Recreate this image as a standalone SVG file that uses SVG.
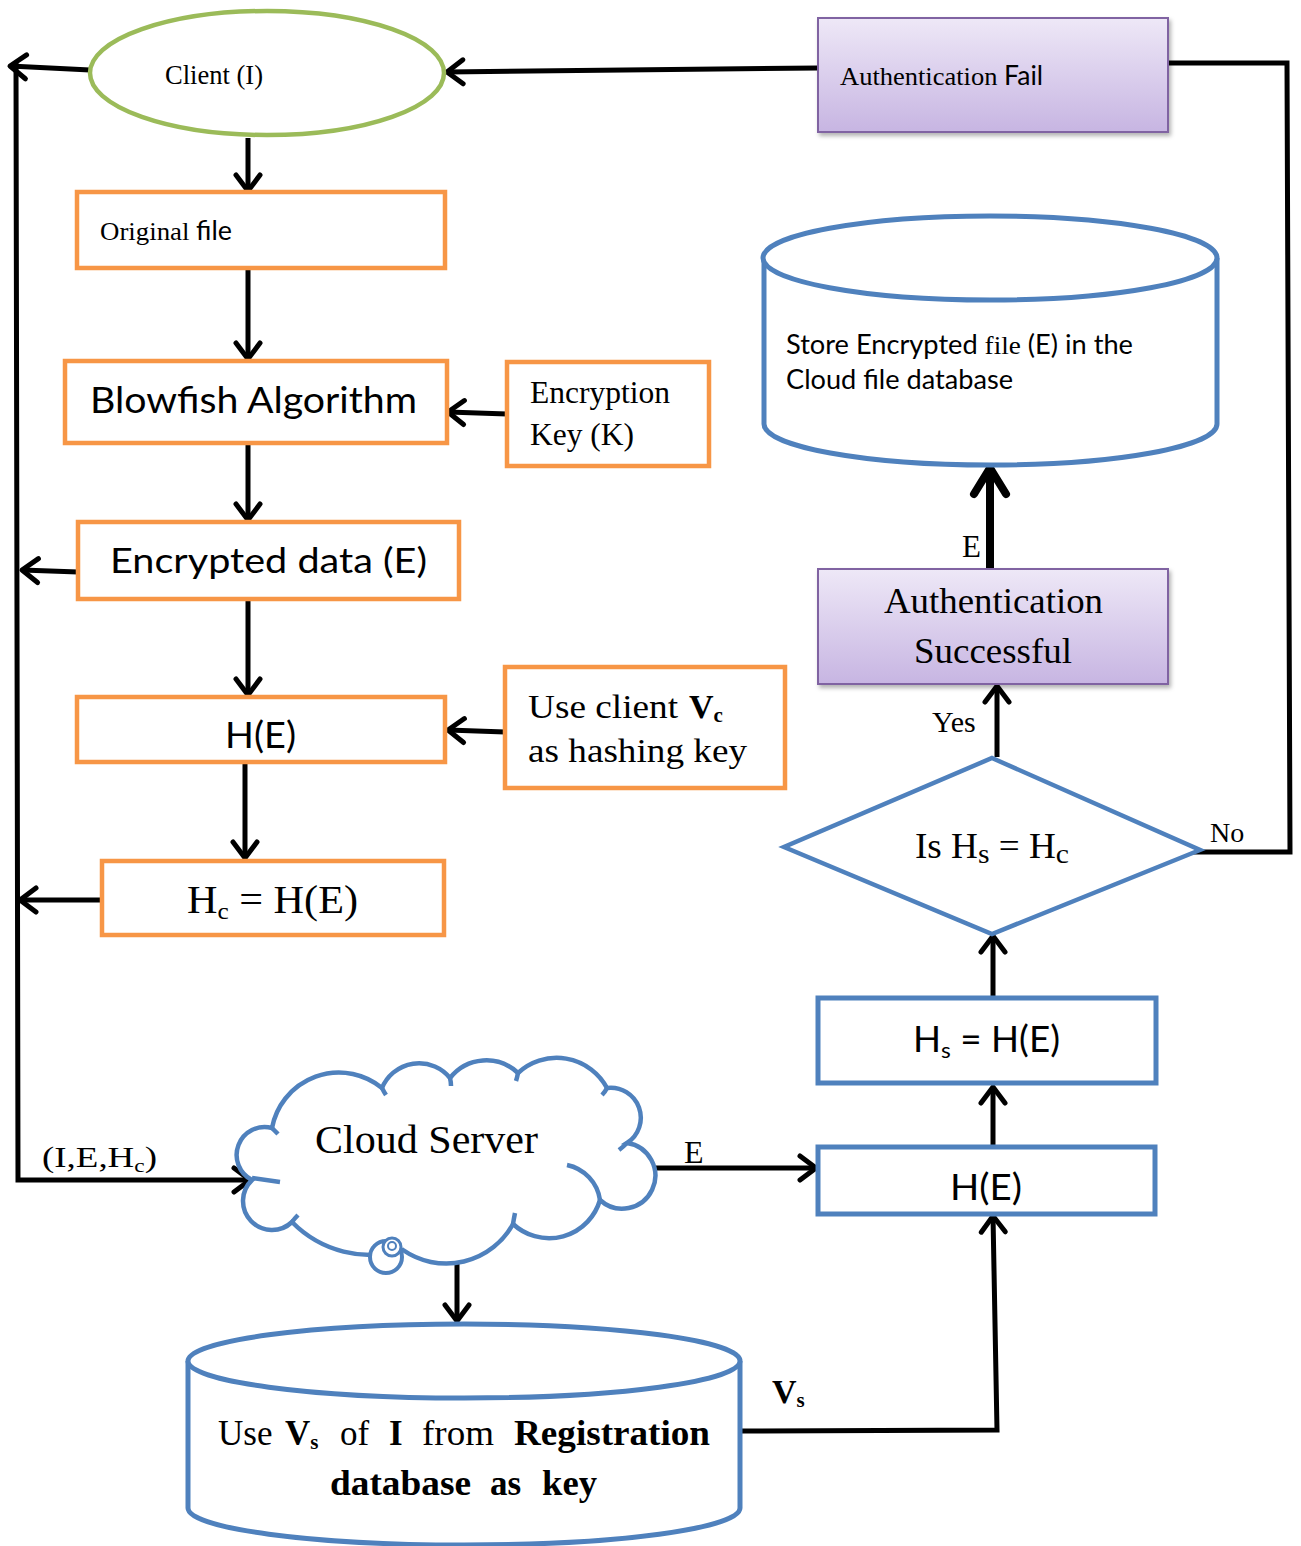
<svg xmlns="http://www.w3.org/2000/svg" width="1301" height="1546" viewBox="0 0 1301 1546">
<defs>
<style>
.ob{fill:#fff;stroke:#F79646;stroke-width:4.5}
.bb{fill:#fff;stroke:#4F81BD;stroke-width:5}
.pb{fill:url(#pg);stroke:#8064A2;stroke-width:2;filter:url(#sh)}
.cn{fill:none;stroke:#000;stroke-width:5}
.thick{stroke-width:8}
.serif{font-family:"Liberation Serif","Times New Roman",serif;fill:#000}
.sans{font-family:Lato,"Liberation Sans",sans-serif;fill:#000}
.b{font-weight:bold}
</style>
<linearGradient id="pg" x1="0" y1="0" x2="0" y2="1">
<stop offset="0" stop-color="#EEE8F7"/>
<stop offset="1" stop-color="#C7B5E2"/>
</linearGradient>
<filter id="sh" x="-10%" y="-10%" width="120%" height="130%">
<feDropShadow dx="2" dy="3" stdDeviation="2" flood-color="#000" flood-opacity="0.3"/>
</filter>
<marker id="ah" markerUnits="userSpaceOnUse" viewBox="-22 -16 26 32" refX="0" refY="0" markerWidth="26" markerHeight="32" orient="auto">
<path d="M-16,-12 L0,0 L-16,12" fill="none" stroke="#000" stroke-width="5" stroke-linecap="round" stroke-linejoin="round"/>
</marker>
<marker id="ahb" markerUnits="userSpaceOnUse" viewBox="-32 -22 38 44" refX="0" refY="0" markerWidth="38" markerHeight="44" orient="auto">
<path d="M-26,-16 L0,0 L-26,16" fill="none" stroke="#000" stroke-width="8" stroke-linecap="round" stroke-linejoin="round"/>
</marker>
</defs>
<rect x="0" y="0" width="1301" height="1546" fill="#fff"/>

<g id="connectors">
<path class="cn" d="M90,70 L10,66" marker-end="url(#ah)"/>
<path class="cn" d="M16,63 L18,1180 L250,1180" marker-end="url(#ah)"/>
<path class="cn" d="M248,138 L248,191" marker-end="url(#ah)"/>
<path class="cn" d="M248,268 L248,359" marker-end="url(#ah)"/>
<path class="cn" d="M507,414 L448,412" marker-end="url(#ah)"/>
<path class="cn" d="M248,443 L248,520" marker-end="url(#ah)"/>
<path class="cn" d="M78,572 L22,570" marker-end="url(#ah)"/>
<path class="cn" d="M248,599 L248,695" marker-end="url(#ah)"/>
<path class="cn" d="M505,732 L448,730" marker-end="url(#ah)"/>
<path class="cn" d="M245,762 L245,858" marker-end="url(#ah)"/>
<path class="cn" d="M102,900 L20,900" marker-end="url(#ah)"/>
<path class="cn" d="M457,1258 L457,1321" marker-end="url(#ah)"/>
<path class="cn" d="M656,1168 L816,1168" marker-end="url(#ah)"/>
<path class="cn" d="M740,1431 L997,1430 L993,1216" marker-end="url(#ah)"/>
<path class="cn" d="M993,1146 L993,1087" marker-end="url(#ah)"/>
<path class="cn" d="M993,997 L993,936" marker-end="url(#ah)"/>
<path class="cn" d="M997,757 L997,686" marker-end="url(#ah)"/>
<path class="cn thick" d="M990,568 L990,468" marker-end="url(#ahb)"/>
<path class="cn" d="M818,68 L447,72" marker-end="url(#ah)"/>
<path class="cn" d="M1183,852 L1290,852 L1287,63 L1168,63"/>
<text class="serif" x="42" y="1167" font-size="30" textLength="115" lengthAdjust="spacingAndGlyphs">(I,E,H<tspan font-size="19" dy="5">c</tspan><tspan dy="-5">)</tspan></text>
<text class="serif" x="684" y="1163" font-size="32">E</text>
<text class="serif b" x="772" y="1403" font-size="34">V<tspan font-size="21" dy="4">s</tspan></text>
<text class="serif" x="1210" y="842" font-size="28">No</text>
<text class="serif" x="932" y="732" font-size="30">Yes</text>
<text class="serif" x="962" y="557" font-size="31">E</text>
</g>

<g id="client">
<ellipse cx="267" cy="73" rx="177" ry="62" fill="#fff" stroke="#9BBB59" stroke-width="4.5"/>
<text class="serif" x="165" y="84" font-size="27" textLength="98" lengthAdjust="spacingAndGlyphs">Client (I)</text>
</g>

<g id="original-file">
<rect class="ob" x="77" y="192" width="368" height="76"/>
<text class="serif" x="100" y="240" font-size="26" textLength="132" lengthAdjust="spacingAndGlyphs">Original <tspan class="sans">file</tspan></text>
</g>

<g id="blowfish">
<rect class="ob" x="65" y="361" width="382" height="82"/>
<text class="sans" x="90" y="413" font-size="37" textLength="327" lengthAdjust="spacingAndGlyphs">Blowfish Algorithm</text>
</g>

<g id="encryption-key">
<rect class="ob" x="507" y="362" width="202" height="104"/>
<text class="serif" x="530" y="403" font-size="31" textLength="140" lengthAdjust="spacingAndGlyphs">Encryption</text>
<text class="serif" x="530" y="445" font-size="31" textLength="104" lengthAdjust="spacingAndGlyphs">Key (K)</text>
</g>

<g id="encrypted-data">
<rect class="ob" x="78" y="522" width="381" height="77"/>
<text class="sans" x="110" y="573" font-size="35" textLength="317" lengthAdjust="spacingAndGlyphs">Encrypted data (E)</text>
</g>

<g id="hash-client">
<rect class="ob" x="77" y="697" width="368" height="65"/>
<text class="sans" x="225" y="748" font-size="36" textLength="71" lengthAdjust="spacingAndGlyphs">H(E)</text>
</g>

<g id="client-key">
<rect class="ob" x="505" y="667" width="280" height="121"/>
<text class="serif" x="528" y="718" font-size="34" textLength="150" lengthAdjust="spacingAndGlyphs">Use client</text>
<text class="serif b" x="689" y="718" font-size="34">V<tspan font-size="21" dy="4">c</tspan></text>
<text class="serif" x="528" y="762" font-size="34" textLength="219" lengthAdjust="spacingAndGlyphs">as hashing key</text>
</g>

<g id="hc">
<rect class="ob" x="102" y="861" width="342" height="74"/>
<text class="serif" x="187" y="913" font-size="40" textLength="171" lengthAdjust="spacingAndGlyphs">H<tspan font-size="24" dy="6">c</tspan><tspan dy="-6"> = H(E)</tspan></text>
</g>

<g id="cloud-server">
<path fill="#fff" stroke="#4F81BD" stroke-width="4.5" d="M252,1180 A28,28 0 0 1 272,1128 A68,68 0 0 1 382,1088 A40,40 0 0 1 450,1078 A46,46 0 0 1 518,1073 A57,57 0 0 1 607,1088 A30,30 0 0 1 627,1143 A33,33 0 1 1 600,1200 A53,53 0 0 1 513,1224 A76,76 0 0 1 403,1250 A110,110 0 0 1 292,1222 A29,29 0 0 1 252,1180 Z"/>
<path fill="none" stroke="#4F81BD" stroke-width="4.5" d="M252,1178 Q266,1180 280,1182 M567,1165 A42,42 0 0 1 600,1200 M272,1128 Q275,1131 278,1134 M382,1088 Q384,1092 386,1095 M450,1078 Q451,1082 451,1086 M518,1073 Q517,1078 516,1081 M607,1088 Q605,1092 602,1095 M627,1143 Q623,1147 619,1150 M513,1224 Q514,1218 515,1213 M292,1222 Q295,1218 298,1215"/>
<circle cx="386" cy="1257" r="16" fill="#fff" stroke="#4F81BD" stroke-width="4"/>
<circle cx="392" cy="1247" r="9" fill="#fff" stroke="#4F81BD" stroke-width="3"/>
<circle cx="392" cy="1246" r="4" fill="none" stroke="#4F81BD" stroke-width="2"/>
<text class="serif" x="315" y="1153" font-size="41" textLength="223" lengthAdjust="spacingAndGlyphs">Cloud Server</text>
</g>

<g id="registration-db">
<path class="bb" d="M188,1361 L188,1508 A276,37 0 0 0 740,1508 L740,1361"/>
<ellipse class="bb" cx="464" cy="1361" rx="276" ry="37"/>
<text class="serif" x="218" y="1445" font-size="35">Use</text>
<text class="serif b" x="285" y="1445" font-size="35">V<tspan font-size="21" dy="4">s</tspan></text>
<text class="serif" x="340" y="1445" font-size="35">of</text>
<text class="serif b" x="389" y="1445" font-size="35">I</text>
<text class="serif" x="422" y="1445" font-size="35" textLength="72" lengthAdjust="spacingAndGlyphs">from</text>
<text class="serif b" x="514" y="1445" font-size="35" textLength="196" lengthAdjust="spacingAndGlyphs">Registration</text>
<text class="serif b" x="330" y="1495" font-size="35" textLength="141" lengthAdjust="spacingAndGlyphs">database</text>
<text class="serif b" x="490" y="1495" font-size="35">as</text>
<text class="serif b" x="542" y="1495" font-size="35" textLength="55" lengthAdjust="spacingAndGlyphs">key</text>
</g>

<g id="auth-fail">
<rect class="pb" x="818" y="18" width="350" height="114"/>
<text class="serif" x="840" y="85" font-size="26" textLength="203" lengthAdjust="spacingAndGlyphs">Authentication <tspan class="sans">Fail</tspan></text>
</g>

<g id="cloud-file-db">
<path class="bb" d="M764,258 L764,424 A226,41 0 0 0 1217,424 L1217,258"/>
<ellipse class="bb" cx="990" cy="258" rx="227" ry="42"/>
<text class="sans" x="786" y="354" font-size="26" textLength="347" lengthAdjust="spacingAndGlyphs">Store Encrypted <tspan class="serif">file</tspan> (E) in the</text>
<text class="sans" x="786" y="389" font-size="26" textLength="227" lengthAdjust="spacingAndGlyphs">Cloud file database</text>
</g>

<g id="auth-success">
<rect class="pb" x="818" y="569" width="350" height="115"/>
<text class="serif" x="884" y="613" font-size="36" textLength="219" lengthAdjust="spacingAndGlyphs">Authentication</text>
<text class="serif" x="914" y="663" font-size="36" textLength="158" lengthAdjust="spacingAndGlyphs">Successful</text>
</g>

<g id="decision">
<polygon points="992,758 1200,850 992,934 784,847" fill="#fff" stroke="#4F81BD" stroke-width="4.5" stroke-linejoin="miter"/>
<text class="serif" x="915" y="858" font-size="35" textLength="154" lengthAdjust="spacingAndGlyphs">Is H<tspan font-size="28" dy="5">s</tspan><tspan dy="-5"> = H</tspan><tspan font-size="28" dy="5">c</tspan></text>
</g>

<g id="hs">
<rect class="bb" x="818" y="998" width="338" height="85"/>
<text class="sans" x="913" y="1052" font-size="36" textLength="147" lengthAdjust="spacingAndGlyphs">H<tspan font-size="22" dy="6">s</tspan><tspan dy="-6"> = H(E)</tspan></text>
</g>

<g id="hash-server">
<rect class="bb" x="818" y="1147" width="337" height="67"/>
<text class="sans" x="950" y="1200" font-size="36" textLength="72" lengthAdjust="spacingAndGlyphs">H(E)</text>
</g>
</svg>
